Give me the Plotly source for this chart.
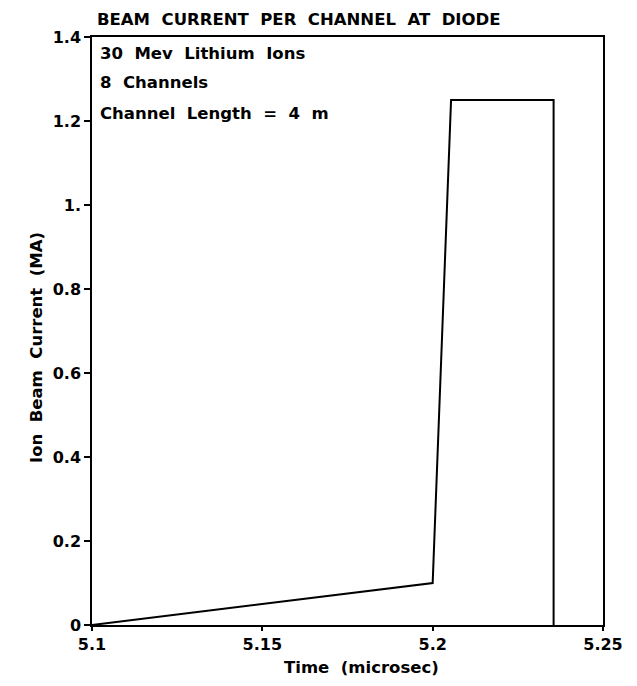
import plotly.graph_objects as go

time_us = [5.1, 5.2, 5.2054, 5.2355, 5.2355]
current_ma = [0.0, 0.1, 1.25, 1.25, 0.0]

x_tickvals = [5.1, 5.15, 5.2, 5.25]
x_ticktext = ["5.1", "5.15", "5.2", "5.25"]
y_tickvals = [0, 0.2, 0.4, 0.6, 0.8, 1.0, 1.2, 1.4]
y_ticktext = ["0", "0.2", "0.4", "0.6", "0.8", "1.", "1.2", "1.4"]

notes = ["30 Mev Lithium Ions", "8 Channels", "Channel Length = 4 m"]
title = "BEAM CURRENT PER CHANNEL AT DIODE"
x_title = "Time (microsec)"
y_title = "Ion Beam Current (MA)"

FONT = "DejaVu Sans"


def wide(s, extra=1):
    return s.replace(" ", "\u00a0" * extra + " ")


def f(size):
    return dict(family=FONT, size=size, color="black", weight="bold")


fig = go.Figure()
fig.add_trace(go.Scatter(x=time_us, y=current_ma, mode="lines",
                         line=dict(color="black", width=2), showlegend=False,
                         hoverinfo="skip"))

PLOT_L, PLOT_R = 92, 603
PLOT_TOP, PLOT_BOT = 37, 625
PH = PLOT_BOT - PLOT_TOP
PW = PLOT_R - PLOT_L


def py(pix):
    return (PLOT_BOT - pix) / PH


def px(pix):
    return (pix - PLOT_L) / PW


ann = [dict(text=wide(title, 1), xref="paper", yref="paper", x=px(95), y=py(20),
            xanchor="left", yanchor="middle", showarrow=False, font=f(16.5))]
for t, ypix in zip(notes, [53, 83, 113]):
    ann.append(dict(text=wide(t), xref="paper", yref="paper", x=px(98), y=py(ypix),
                    xanchor="left", yanchor="middle", showarrow=False, font=f(16.5)))
ann.append(dict(text=wide(x_title), xref="paper", yref="paper", x=px(361), y=py(667),
                xanchor="center", yanchor="middle", showarrow=False, font=f(16.5)))
ann.append(dict(text=wide(y_title), xref="paper", yref="paper", x=px(36), y=py(348),
                xanchor="center", yanchor="middle", textangle=-90, showarrow=False,
                font=f(16.5)))

fig.update_layout(
    width=637, height=686,
    margin=dict(l=PLOT_L, r=637 - PLOT_R, t=PLOT_TOP, b=686 - PLOT_BOT),
    paper_bgcolor="white", plot_bgcolor="white",
    font=f(16),
    annotations=ann,
    xaxis=dict(range=[5.1, 5.25], tickvals=x_tickvals, ticktext=x_ticktext,
               showgrid=False, zeroline=False, showline=True, linecolor="black",
               linewidth=1.5, mirror=True, ticks="outside", ticklen=4,
               tickcolor="black", tickwidth=1.5, tickfont=f(16)),
    yaxis=dict(range=[0, 1.4], tickvals=y_tickvals, ticktext=y_ticktext,
               showgrid=False, zeroline=False, showline=True, linecolor="black",
               linewidth=1.5, mirror=True, ticks="outside", ticklen=6,
               tickcolor="black", tickwidth=1.5, tickfont=f(16)),
)

fig.write_html("out.html")
